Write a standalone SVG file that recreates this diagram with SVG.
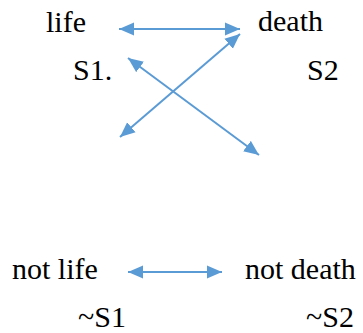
<svg xmlns="http://www.w3.org/2000/svg" width="363" height="333" viewBox="0 0 363 333">
<defs>
<style>
.t{font-family:'Liberation Serif','Times New Roman',serif;font-size:30px;fill:#000}
.c{stroke:#5B9BD5;stroke-width:2;fill:none;marker-start:url(#ah);marker-end:url(#ah)}
</style>
<marker id="ah" markerUnits="userSpaceOnUse" markerWidth="16" markerHeight="14" refX="15" refY="6.5" orient="auto-start-reverse" viewBox="0 0 16 13">
<path d="M0,0 L15,6.5 L0,13 Z" fill="#5B9BD5"/>
</marker>
</defs>
<rect width="363" height="333" fill="#fff"/>
<g id="connectors">
<line class="c" x1="119" y1="29" x2="240" y2="29"/>
<line class="c" x1="120" y1="137" x2="240" y2="34"/>
<line class="c" x1="128" y1="58" x2="259" y2="155"/>
<line class="c" x1="128" y1="272" x2="222" y2="272"/>
</g>
<g id="life"><text class="t" x="46" y="32">life</text></g>
<g id="death"><text class="t" x="258" y="31">death</text></g>
<g id="s1"><text class="t" x="73" y="80">S1.</text></g>
<g id="s2"><text class="t" x="307" y="80">S2</text></g>
<g id="notlife"><text class="t" x="12" y="279">not life</text></g>
<g id="notdeath"><text class="t" x="245" y="279">not death</text></g>
<g id="nots1"><text class="t" x="78" y="327">~S1</text></g>
<g id="nots2"><text class="t" x="306" y="327">~S2</text></g>
</svg>
